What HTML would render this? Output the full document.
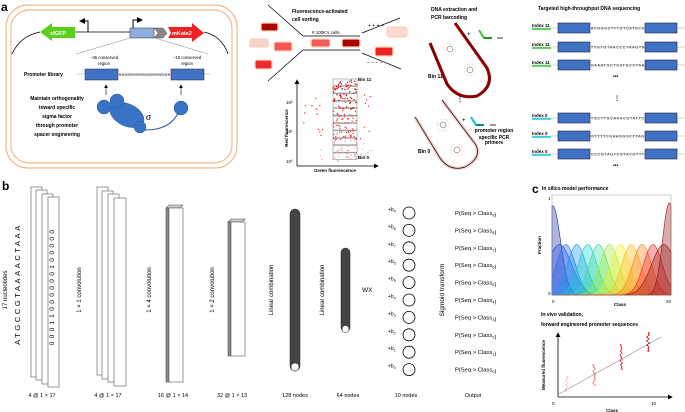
<!DOCTYPE html>
<html><head><meta charset="utf-8"><style>
body{margin:0;background:#fff}
svg{display:block;font-family:"Liberation Sans",sans-serif}
</style></head><body>
<svg id="s" width="685" height="412" viewBox="0 0 685 412" xmlns="http://www.w3.org/2000/svg">
<defs>
<marker id="ah" markerWidth="6" markerHeight="6" refX="5" refY="3" orient="auto"><path d="M0,0L6,3L0,6z" fill="#000"/></marker>
</defs>
<text x="1" y="11" font-size="12" font-weight="bold">a</text>
<rect x="6" y="5" width="231" height="163" rx="22" fill="none" stroke="#f5b98a" stroke-width="1.2"/>
<rect x="11" y="10" width="221" height="153" rx="18" fill="none" stroke="#f5b98a" stroke-width="1.2"/>
<path d="M12,54 Q20,36 40,32" fill="none" stroke="#000" stroke-width="0.8"/>
<path d="M204,32 Q222,36 228,54" fill="none" stroke="#000" stroke-width="0.8"/>
<line x1="72" y1="32" x2="130" y2="32" stroke="#000" stroke-width="0.8"/>
<polygon points="40,32 52,23 52,27 75,27 75,38 52,38 52,41" fill="#5ccf1e"/>
<text x="50" y="35" font-size="5.5" fill="#fff" font-weight="bold">sfGFP</text>
<rect x="130" y="28" width="24" height="10" fill="#8eaede" stroke="#333" stroke-width="0.5"/>
<polygon points="154,28 163,28 167,33 163,38 154,38 158,33" fill="#888" stroke="#333" stroke-width="0.4"/>
<polygon points="168,27 192,27 192,23 204,33 192,42 192,38 168,38 171,33" fill="#ee2222"/>
<text x="172" y="35" font-size="5.5" fill="#fff" font-weight="bold">mKate2</text>
<path d="M88,32V21H80" fill="none" stroke="#000" stroke-width="1" marker-end="url(#ah)"/>
<path d="M133,28V20H142" fill="none" stroke="#000" stroke-width="1" marker-end="url(#ah)"/>
<line x1="130" y1="38" x2="76" y2="54" stroke="#888" stroke-width="0.5"/>
<line x1="155" y1="38" x2="208" y2="54" stroke="#888" stroke-width="0.5"/>
<text x="104" y="59" font-size="4.3" text-anchor="middle">−35 conserved</text><text x="104" y="65" font-size="4.3" text-anchor="middle">region</text>
<text x="187" y="59" font-size="4.3" text-anchor="middle">−10 conserved</text><text x="187" y="65" font-size="4.3" text-anchor="middle">region</text>
<text x="24" y="76" font-size="5" font-weight="bold">Promoter library</text>
<line x1="76" y1="74" x2="210" y2="74" stroke="#aaa" stroke-width="0.5"/>
<rect x="85" y="69" width="33" height="11" fill="#3f72c4" stroke="#223" stroke-width="0.5"/>
<rect x="171" y="69" width="33" height="11" fill="#3f72c4" stroke="#223" stroke-width="0.5"/>
<text x="119" y="76" font-size="3.3" textLength="51">NNNNNNNNNNNNNNNNN</text>
<line x1="106" y1="95" x2="106" y2="85" stroke="#000" stroke-width="0.6" marker-end="url(#ah)"/>
<line x1="181" y1="95" x2="181" y2="85" stroke="#000" stroke-width="0.6" marker-end="url(#ah)"/>
<g fill="#3a72c8" stroke="#2456a0" stroke-width="0.5">
<ellipse cx="127" cy="115" rx="18" ry="11" transform="rotate(25 127 115)"/>
<circle cx="104" cy="107" r="7"/><circle cx="117" cy="101" r="7"/><circle cx="140" cy="127" r="6"/><circle cx="181" cy="108" r="7"/></g>
<path d="M145,130 Q170,130 178,113" fill="none" stroke="#2456a0" stroke-width="1"/>
<text x="146" y="120" font-size="10" font-family="Liberation Serif" font-style="italic">σ</text>
<g font-size="5" font-weight="bold" text-anchor="middle"><text x="57" y="100">Maintain orthogonality</text><text x="57" y="109">toward specific</text><text x="57" y="118">sigma factor</text><text x="57" y="127">through promoter</text><text x="57" y="136">spacer engineering</text></g>
<g font-size="5" font-weight="bold"><text x="292" y="13">Fluorescence-activated</text><text x="292" y="21">cell sorting</text></g>
<g stroke="#000" stroke-width="0.7" fill="none"><path d="M268,5L303,36H360"/><path d="M268,81L303,50H360"/>
<line x1="362" y1="33" x2="400" y2="18"/><line x1="362" y1="53" x2="401" y2="69"/></g>
<text x="312" y="34" font-size="4.5">#&#160;100K's cells</text>
<text x="368" y="27" font-size="5">+ + + +</text><text x="367" y="64" font-size="5">− − − −</text>
<g stroke="#fbd3b6" stroke-width="1.3"><rect x="261" y="23" width="17" height="8" rx="2" fill="#a90000"/><rect x="250" y="39" width="18" height="8" rx="2" fill="#f8d1d1"/><rect x="274" y="42" width="18" height="9" rx="2" fill="#f25757"/><rect x="255" y="60" width="17" height="9" rx="2" fill="#ee2a2a"/>
<rect x="311" y="39" width="19" height="8" rx="2" fill="#f45c5c"/><rect x="342" y="39" width="18" height="8" rx="2" fill="#a90000"/><rect x="387" y="27" width="20" height="10" rx="3" fill="#fbd7d7"/><rect x="375" y="47" width="18" height="9" rx="2" fill="#ee2222"/></g>
<line x1="297" y1="166" x2="297" y2="80" stroke="#000" stroke-width="0.8" marker-end="url(#ah)"/>
<line x1="297" y1="166" x2="378" y2="166" stroke="#000" stroke-width="0.8" marker-end="url(#ah)"/>
<text x="288" y="128" font-size="4.5" font-weight="bold" transform="rotate(-90 288 128)" text-anchor="middle">Red fluorescence</text>
<text x="335" y="172" font-size="4.5" font-weight="bold" text-anchor="middle">Green fluorescence</text>
<g font-size="4.5"><text x="286" y="104">10²</text><text x="286" y="133">10¹</text><text x="286" y="163">10⁰</text></g>
<g id="bins" fill="none" stroke="#777" stroke-width="0.5"></g>
<g id="sc"></g>
<text x="358" y="81" font-size="4.5" font-weight="bold">Bin 11</text><text x="358" y="159" font-size="4.5" font-weight="bold">Bin 0</text>
<g font-size="5" font-weight="bold"><text x="431" y="11">DNA extraction and</text><text x="431" y="19">PCR barcoding</text></g>
<path d="M430,43 L447,84 Q458,100 477,96 Q495,86 487,68 L455,23" fill="none" stroke="#8b0000" stroke-width="3"/>
<path d="M415,117 L440,158 Q450,172 465,167 Q482,158 476,145 L442,100" fill="none" stroke="#f8cccc" stroke-width="3.5"/>
<path d="M415,117 L440,158 Q450,172 465,167 Q482,158 476,145 L442,100" fill="none" stroke="#000" stroke-width="0.7"/>
<g fill="none" stroke="#f5a873" stroke-width="0.6" stroke-dasharray="1,1.5"><circle cx="450" cy="49" r="6"/><circle cx="470" cy="70" r="6"/><circle cx="443" cy="125" r="6"/><circle cx="457" cy="150" r="6"/></g>
<g fill="none" stroke="#444" stroke-width="0.5"><circle cx="450" cy="49" r="3"/><circle cx="470" cy="70" r="3"/><circle cx="443" cy="125" r="3"/><circle cx="457" cy="150" r="3"/></g>
<text x="428" y="78" font-size="5" font-weight="bold">Bin 11</text><text x="418" y="153" font-size="5" font-weight="bold">Bin 0</text>
<text x="457" y="101" font-size="6" font-weight="bold">⋮</text>
<text x="467" y="36" font-size="6">+</text><path d="M479,30 L484,38 H492" stroke="#3c3" stroke-width="2" fill="none"/><path d="M484,38 H492" stroke="#000" stroke-width="0.6"/><path d="M497,38 H503" stroke="#000" stroke-width="0.8"/>
<text x="462" y="122" font-size="6">+</text><path d="M471,117 L476,125 H484" stroke="#0cc" stroke-width="2" fill="none"/><path d="M476,125 H484" stroke="#000" stroke-width="0.6"/><path d="M490,125 H496" stroke="#000" stroke-width="0.8"/>
<g font-size="5" font-weight="bold" text-anchor="middle"><text x="494" y="132">promoter region</text><text x="494" y="139">specific PCR</text><text x="494" y="144">primers</text></g>
<text x="538" y="10" font-size="5" font-weight="bold">Targeted high-throughput DNA sequencing</text>
<g id="seq"></g>
<text x="613" y="78" font-size="5" font-weight="bold">•••</text><text x="613" y="167" font-size="5" font-weight="bold">•••</text>
<text x="614" y="100" font-size="6" font-weight="bold">⋮</text>
<text x="2" y="190" font-size="12" font-weight="bold">b</text>
<text x="7" y="290" font-size="6" transform="rotate(-90 7 290)" text-anchor="middle">17 nucleotides</text>
<text x="20" y="284" font-size="7.5" transform="rotate(-90 20 284)" text-anchor="middle" letter-spacing="2.6">ATGCCGTAAAACTAAA</text>
<g fill="#fff" stroke="#555" stroke-width="0.6">
<rect x="31" y="187" width="11" height="190"/><rect x="36" y="190" width="11" height="190"/><rect x="42" y="194" width="11" height="190"/><rect x="48" y="197" width="11" height="190"/>
<rect x="97" y="187" width="11" height="188"/><rect x="102" y="191" width="11" height="188"/><rect x="108" y="194" width="11" height="188"/><rect x="114" y="198" width="12" height="188"/>
<polygon points="166,208 169,205 183,205 180,208" fill="#ccc"/><rect x="166" y="208" width="3" height="174" fill="#888"/><rect x="169" y="208" width="14" height="174"/>
<polygon points="228,222 231,219 245,219 242,222" fill="#ccc"/><rect x="228" y="222" width="3" height="134" fill="#888"/><rect x="231" y="222" width="14" height="134"/>
</g>
<text x="54" y="286" font-size="6.5" transform="rotate(-90 54 286)" text-anchor="middle" letter-spacing="3.4">00011000000100000</text>
<text x="81" y="290" font-size="6" transform="rotate(-90 81 290)" text-anchor="middle">1 × 1 convolution</text>
<text x="151" y="290" font-size="6" transform="rotate(-90 151 290)" text-anchor="middle">1 × 4 convolution</text>
<text x="214" y="290" font-size="6" transform="rotate(-90 214 290)" text-anchor="middle">1 × 2 convolution</text>
<text x="273" y="290" font-size="6" transform="rotate(-90 273 290)" text-anchor="middle">Linear combination</text>
<text x="324" y="290" font-size="6" transform="rotate(-90 324 290)" text-anchor="middle">Linear combination</text>
<rect x="290" y="209" width="10" height="162" rx="5" fill="#444" stroke="#222" stroke-width="0.5"/><circle cx="295" cy="367" r="4" fill="#fff" stroke="#222" stroke-width="0.5"/>
<rect x="341" y="248" width="9" height="84" rx="4.5" fill="#444" stroke="#222" stroke-width="0.5"/><circle cx="345.5" cy="329" r="3.5" fill="#fff" stroke="#222" stroke-width="0.5"/>
<text x="362" y="292" font-size="6.5">WX</text>
<g id="nodes"></g>
<text x="444" y="290" font-size="6.5" transform="rotate(-90 444 290)" text-anchor="middle">Sigmoid transform</text>
<g font-size="5.5" text-anchor="middle"><text x="42" y="397">4 @ 1 × 17</text><text x="108" y="397">4 @ 1 × 17</text><text x="173" y="397">16 @ 1 × 14</text><text x="232" y="397">32 @ 1 × 13</text><text x="295" y="397">128 nodes</text><text x="348" y="397">64 nodes</text><text x="406" y="397">10 nodes</text><text x="473" y="397">Output</text></g>
<text x="532" y="193" font-size="12" font-weight="bold">c</text>
<text x="542" y="190" font-size="5" font-weight="bold">In silico model performance</text>
<g id="curves"></g>
<rect x="552" y="195" width="119" height="100" fill="none" stroke="#999" stroke-width="0.5"/>
<text x="548" y="200" font-size="4.5">1</text><text x="548" y="295" font-size="4.5">0</text>
<text x="541" y="245" font-size="4.5" font-weight="bold" transform="rotate(-90 541 245)" text-anchor="middle">Fraction</text>
<text x="552" y="303" font-size="4.5">0</text><text x="666" y="303" font-size="4.5">10</text><text x="614" y="306" font-size="4.5" font-weight="bold">Class</text>
<text x="541" y="316" font-size="5" font-weight="bold">In vivo validation,</text><text x="541" y="326" font-size="5" font-weight="bold">forward engineered promoter sequences</text>
<line x1="558" y1="397" x2="558" y2="333" stroke="#000" stroke-width="0.8" marker-end="url(#ah)"/>
<line x1="558" y1="397" x2="672" y2="397" stroke="#000" stroke-width="0.8" marker-end="url(#ah)"/>
<line x1="559" y1="394" x2="661" y2="337" stroke="#666" stroke-width="0.5"/>
<text x="545" y="365" font-size="4.5" font-weight="bold" transform="rotate(-90 545 365)" text-anchor="middle">Measured fluorescence</text>
<text x="552" y="405" font-size="4.5">0</text><text x="651" y="405" font-size="4.5">10</text><text x="606" y="412" font-size="4.5" font-weight="bold">Class</text>
<g id="vv"></g>
</svg>
<script>
const NS="http://www.w3.org/2000/svg";
function el(p,t,a,txt){const e=document.createElementNS(NS,t);for(const k in a)e.setAttribute(k,a[k]);if(txt!==undefined)e.textContent=txt;document.getElementById(p).appendChild(e);return e;}
for(let i=0;i<11;i++)el("bins","rect",{x:333,y:79+i*7.4,width:24,height:6.6});
let seed=3;function r(){seed=(seed*9301+49297)%233280;return seed/233280;}
for(let i=0;i<170;i++){let x=333+r()*24,y=80+r()*82;let c=y<110?"#d40000":y<140?"#ee3333":"#f7a0a0";el("sc","circle",{cx:x.toFixed(1),cy:y.toFixed(1),r:0.7,fill:c});}
for(let i=0;i<30;i++){let x=r()<0.5?302+r()*22:360+r()*12,y=95+r()*68;el("sc","circle",{cx:x.toFixed(1),cy:y.toFixed(1),r:0.7,fill:y<140?"#e33":"#f8b0b0"});}
const rows=[[28,"Index 11","ACGGGCTTTGTCATGCA","#3c3"],[47,"Index 11","TTGTGTAACCCTAAGTA","#3c3"],[65,"Index 11","GAAATGCTGATGCCTAA","#3c3"],[118,"Index 0","TGCTTGCAAACGTATTC","#1cd"],[136,"Index 0","GTTTTCGAAGGGCTTAG","#1cd"],[154,"Index 0","CCCGTAGTCGTACGTTT","#1cd"]];
rows.forEach(([y,l,s,c])=>{el("seq","line",{x1:532,y1:y,x2:685,y2:y,stroke:"#aaa","stroke-width":0.5});
el("seq","line",{x1:532,y1:y+1,x2:551,y2:y+1,stroke:c,"stroke-width":1.5});
el("seq","text",{x:532,y:y-1,"font-size":4.5,"font-weight":"bold"},l);
el("seq","rect",{x:558,y:y-5,width:32,height:10,fill:"#3f72c4",stroke:"#223","stroke-width":0.6});
el("seq","rect",{x:645,y:y-5,width:32,height:10,fill:"#3f72c4",stroke:"#223","stroke-width":0.6});
el("seq","text",{x:591,y:y+1.5,"font-size":3.4,textLength:53},s);});
for(let i=0;i<10;i++){let y=213+i*17.4,k=9-i;
el("nodes","circle",{cx:409,cy:y,r:6,fill:"#fff",stroke:"#000","stroke-width":0.8});
const t=el("nodes","text",{x:388,y:y-2,"font-size":5});t.innerHTML='+b<tspan font-size="3.5" dy="1.5">'+k+'</tspan>';
const u=el("nodes","text",{x:455,y:y+2,"font-size":5.8});u.innerHTML='P(Seq &gt; Class<tspan font-size="4" dy="1.5">'+k+'</tspan>)';}
const cols=["#1a2aa0","#2244dd","#2266ee","#1199ee","#11cccc","#33dd99","#99ee33","#eeee22","#ffbb11","#ff7711","#ee2222","#991111"];
function path(mu,sd,h){let d="M552,295";for(let x=552;x<=671;x+=1){let c=(x-555)/11.1;let v=h*Math.exp(-((c-mu)**2)/(2*sd*sd));d+=" L"+x+","+(295-v*97).toFixed(1);}return d+" L671,295Z";}
el("curves","path",{d:path(-0.2,0.7,0.92),fill:cols[0],"fill-opacity":0.35,stroke:cols[0],"stroke-width":0.6});
for(let k=0;k<=10;k++){el("curves","path",{d:path(k*0.98+(k==0?0.4:0),k==0||k==10?1.1:0.85,0.52),fill:cols[k+1]||cols[k],"fill-opacity":0.35,stroke:cols[k+1]||cols[k],"stroke-width":0.6});}
el("curves","path",{d:path(10.3,0.6,0.95),fill:cols[11],"fill-opacity":0.35,stroke:cols[11],"stroke-width":0.6});
[[567,377,392,"#f8c0c0"],[594,365,386,"#f07070"],[621,345,370,"#e52020"],[648,333,352,"#c00000"]].forEach(([x,a,b,c])=>{for(let y=a;y<=b;y+=2){el("vv","circle",{cx:x+(r()-0.5)*2,cy:y,r:0.9,fill:c});}});
</script>
</body></html>
